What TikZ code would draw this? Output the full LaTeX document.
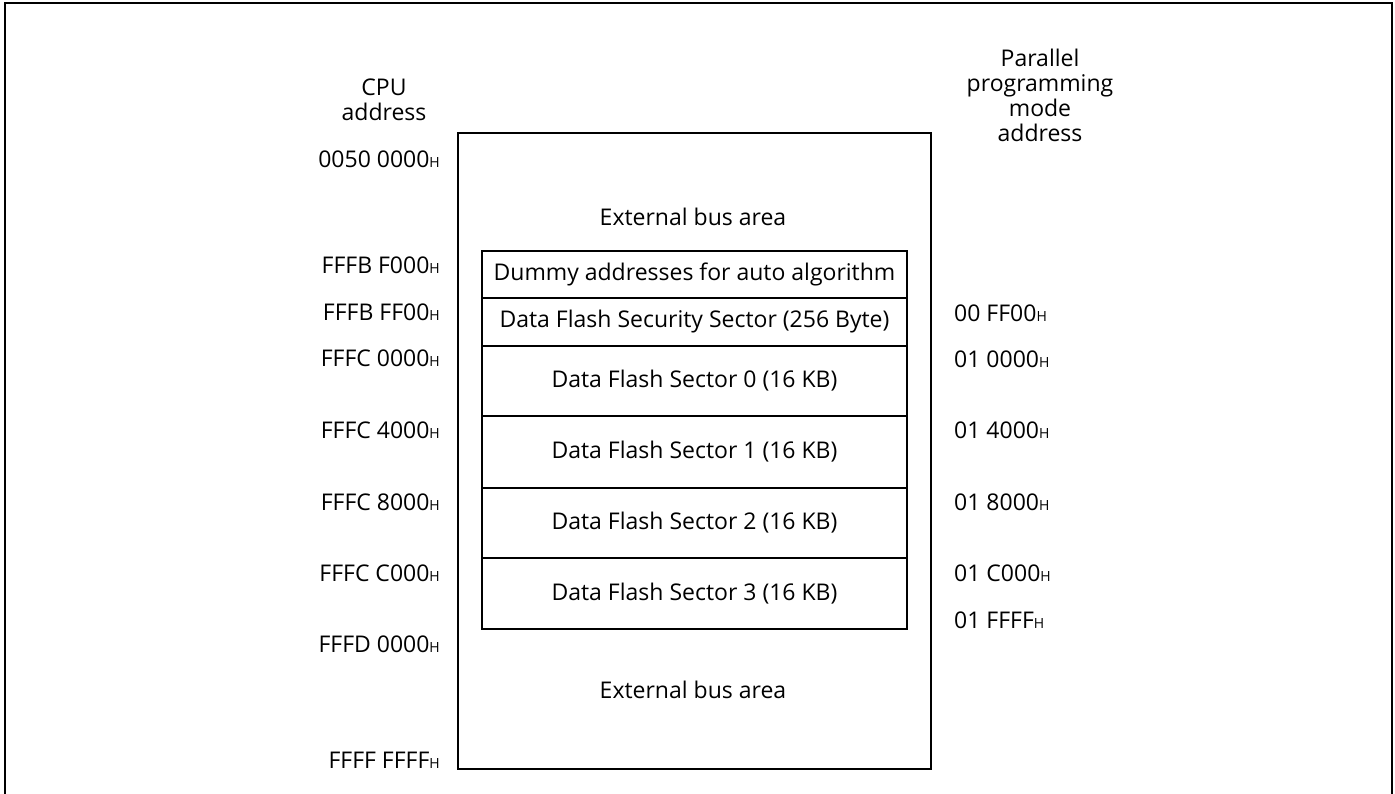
\documentclass[tikz,border=0pt]{standalone}
\usepackage{fontspec}
\setmainfont{Open Sans}
\usetikzlibrary{positioning}

\newcommand{\hexaddr}[1]{#1{\fontsize{14pt}{14pt}\selectfont H}}

\begin{document}
\begin{tikzpicture}[x=1pt, y=-1pt,
  every node/.style={font=\fontsize{23pt}{25pt}\selectfont},
  area/.style={rectangle, draw=black, line width=2pt, anchor=north west},
  sector/.style={rectangle, draw=black, line width=2pt, minimum width=425pt, anchor=north west, inner sep=0pt},
  cpuaddr/.style={anchor=east, inner sep=0pt},
  ppaddr/.style={anchor=west, inner sep=0pt}]

\useasboundingbox (0,0) rectangle (1395,794);
\draw[line width=1.5pt] (5,794) -- (5,3) -- (1392,3) -- (1392,794);

% memory map
\node at (457,132)[area, minimum width=473pt, minimum height=636pt] (busarea) {};
\node at (693,217) (extbus1) {External bus area};
\node at (693,690) (extbus2) {External bus area};

\node at (481,250)[sector, minimum height=47pt] (dummy) {Dummy addresses for auto algorithm};
\node at (481,297)[sector, minimum height=48pt] (security) {Data Flash Security Sector (256 Byte)};
\node at (481,345)[sector, minimum height=70pt] (sector0) {Data Flash Sector 0 (16 KB)};
\node at (481,415)[sector, minimum height=72pt] (sector1) {Data Flash Sector 1 (16 KB)};
\node at (481,487)[sector, minimum height=70pt] (sector2) {Data Flash Sector 2 (16 KB)};
\node at (481,557)[sector, minimum height=71pt] (sector3) {Data Flash Sector 3 (16 KB)};

% CPU addresses
\node at (384,100)[align=center] (cpuhead) {CPU\\address};
\node at (440,159)[cpuaddr] (cpu0) {\hexaddr{0050 0000}};
\node at (440,265)[cpuaddr] (cpu1) {\hexaddr{FFFB F000}};
\node at (440,312)[cpuaddr] (cpu2) {\hexaddr{FFFB FF00}};
\node at (440,358)[cpuaddr] (cpu3) {\hexaddr{FFFC 0000}};
\node at (440,430)[cpuaddr] (cpu4) {\hexaddr{FFFC 4000}};
\node at (440,502)[cpuaddr] (cpu5) {\hexaddr{FFFC 8000}};
\node at (440,573)[cpuaddr] (cpu6) {\hexaddr{FFFC C000}};
\node at (440,644)[cpuaddr] (cpu7) {\hexaddr{FFFD 0000}};
\node at (440,760)[cpuaddr] (cpu8) {\hexaddr{FFFF FFFF}};

% parallel programming mode addresses
\node at (1040,95)[align=center] (pphead) {Parallel\\programming\\mode\\address};
\node at (954,313)[ppaddr] (pp1) {\hexaddr{00 FF00}};
\node at (954,359)[ppaddr] (pp2) {\hexaddr{01 0000}};
\node at (954,430)[ppaddr] (pp3) {\hexaddr{01 4000}};
\node at (954,502)[ppaddr] (pp4) {\hexaddr{01 8000}};
\node at (954,573)[ppaddr] (pp5) {\hexaddr{01 C000}};
\node at (954,620)[ppaddr] (pp6) {\hexaddr{01 FFFF}};

\end{tikzpicture}
\end{document}
